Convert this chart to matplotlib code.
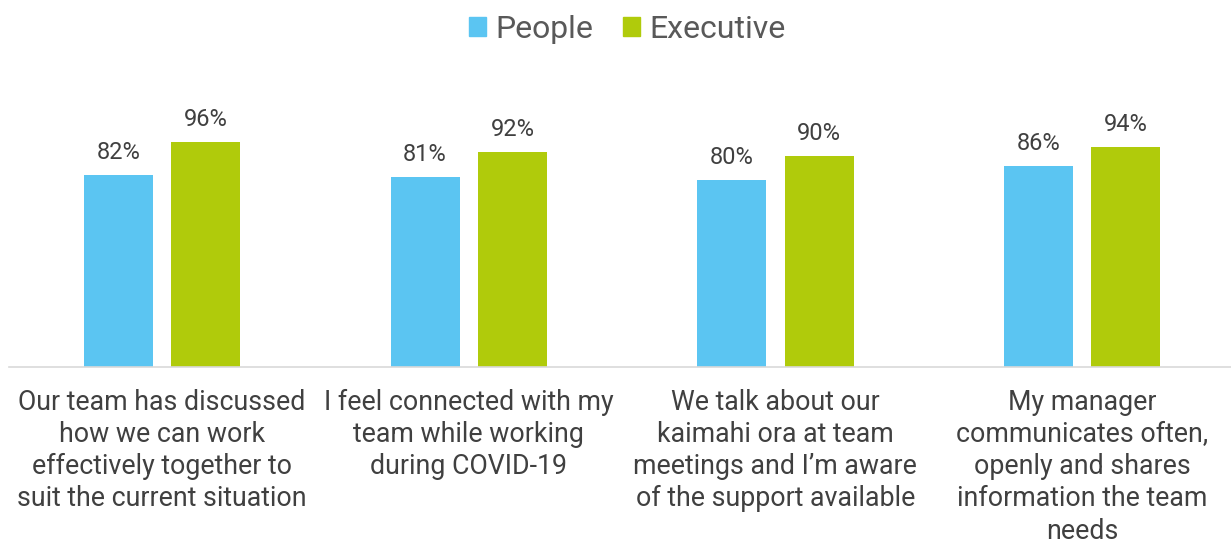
import numpy as np
import matplotlib
matplotlib.use("Agg")
import matplotlib.pyplot as plt
from matplotlib.patches import Patch

categories = [
    "Our team has discussed\nhow we can work\neffectively together to\nsuit the current situation",
    "I feel connected with my\nteam while working\nduring COVID-19",
    "We talk about our\nkaimahi ora at team\nmeetings and I\u2019m aware\nof the support available",
    "My manager\ncommunicates often,\nopenly and shares\ninformation the team\nneeds",
]
people = [82, 81, 80, 86]
executive = [96, 92, 90, 94]
series_names = ["People", "Executive"]

blue = "#5BC5F2"
green = "#B0CB0B"
text_col = "#404040"

plt.rcParams["font.family"] = ["Roboto", "DejaVu Sans"]

fig = plt.figure(figsize=(12.31, 5.42), dpi=100)
ax = fig.add_axes([8.7 / 1231, 1 - 367 / 542, 1226.7 / 1231, 234 / 542])

x = np.arange(len(categories))
w = 0.225
gap = 0.06
b1 = ax.bar(x - (w + gap) / 2, people, width=w, color=blue)
b2 = ax.bar(x + (w + gap) / 2, executive, width=w, color=green)

for bars, vals in [(b1, people), (b2, executive)]:
    for bar, v in zip(bars, vals):
        ax.annotate(f"{v}%", (bar.get_x() + bar.get_width() / 2, v),
                    xytext=(0, 8), textcoords="offset points",
                    ha="center", va="bottom", fontsize=17, color=text_col,
                    annotation_clip=False)

ax.set_xlim(-0.5, len(categories) - 0.5)
ax.set_ylim(0, 100)
ax.set_yticks([])
ax.set_xticks(x)
ax.set_xticklabels(categories, fontsize=19.3, color=text_col, linespacing=1.25)
ax.tick_params(axis="x", length=0, pad=15.5)
for s in ["top", "right", "left"]:
    ax.spines[s].set_visible(False)
ax.spines["bottom"].set_color("#D9D9D9")
ax.spines["bottom"].set_linewidth(1.2)

handles = [Patch(color=blue), Patch(color=green)]
fig.legend(handles, series_names, loc="center", bbox_to_anchor=(627.5 / 1231, 1 - 29 / 542),
           ncol=2, frameon=False, fontsize=23, labelcolor="#595959",
           handlelength=0.53, handleheight=0.53, handletextpad=0.28, columnspacing=0.95)

fig.savefig("out.png", dpi=100)
